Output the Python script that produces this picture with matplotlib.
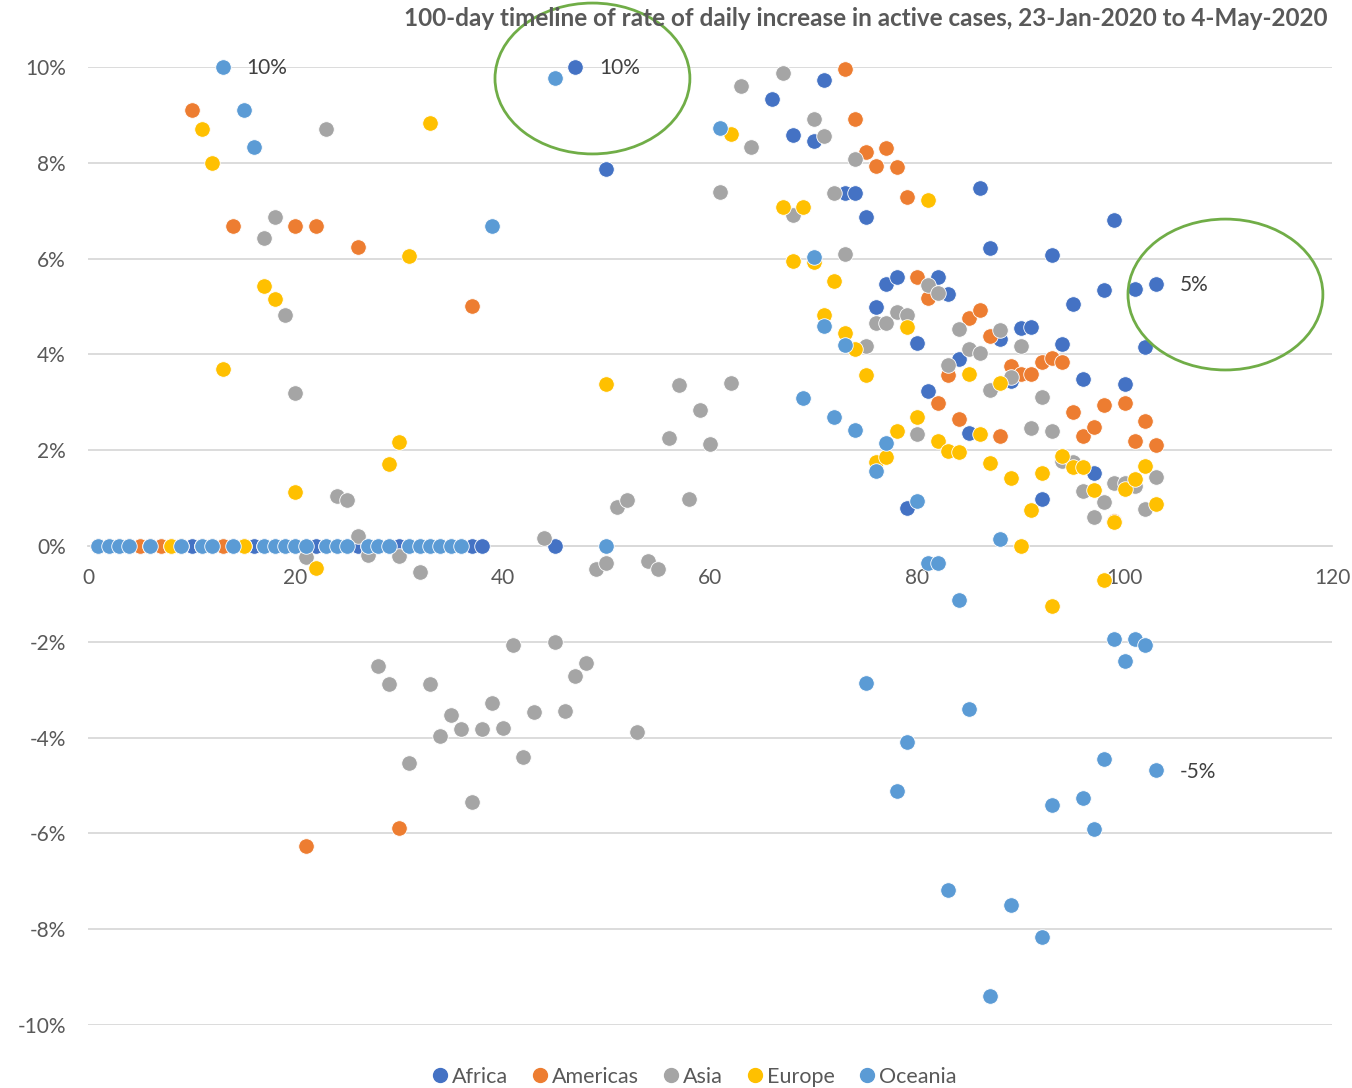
import matplotlib
matplotlib.use("Agg")
import matplotlib.pyplot as plt
from matplotlib.patches import Ellipse
from matplotlib.lines import Line2D
from matplotlib.ticker import FuncFormatter, MultipleLocator

plt.rcParams["font.family"] = ["Lato", "DejaVu Sans"]

# day index (1..103) and daily rate of increase in active cases (%)
africa_days = [1, 2, 3, 4, 5, 6, 7, 8, 9, 10, 11, 12, 13, 14, 15, 16, 17, 18, 19,
               20, 21, 22, 23, 24, 25, 26, 27, 28, 29, 30, 31, 32, 33, 34, 35, 36, 37, 38,
               45, 47, 50, 66, 68, 70, 71, 73, 74, 75, 76, 77, 78, 79, 80, 81, 82, 83,
               84, 85, 86, 87, 88, 89, 90, 91, 92, 93, 94, 95, 96, 97, 98, 99, 100,
               101, 102, 103]
africa_vals = [0, 0, 0, 0, 0, 0, 0, 0, 0, 0, 0, 0, 0, 0, 0, 0, 0, 0, 0,
               0, 0, 0, 0, 0, 0, 0, 0, 0, 0, 0, 0, 0, 0, 0, 0, 0, 0, 0,
               0, 10.0, 7.87, 9.33, 8.58, 8.46, 9.73, 7.37, 7.37, 6.87, 5.0, 5.47, 5.62,
               0.8, 4.24, 3.24, 5.62, 5.26, 3.9, 2.36, 7.47, 6.22, 4.32, 3.45, 4.56,
               4.57, 0.98, 6.07, 4.21, 5.05, 3.49, 1.52, 5.34, 6.8, 3.38, 5.36, 4.15,
               5.47]

americas_days = [1, 2, 3, 4, 5, 6, 7, 8, 9, 10, 11, 12, 13, 14, 15, 20, 21, 22, 26,
                 30, 37, 73, 74, 75, 76, 77, 78, 79, 80, 81, 82, 83, 84, 85, 86, 87,
                 88, 89, 90, 91, 92, 93, 94, 95, 96, 97, 98, 99, 100, 101, 102, 103]
americas_vals = [0, 0, 0, 0, 0, 0, 0, 0, 0, 9.1, 0, 0, 0, 6.68, 0, 6.68, -6.26, 6.68,
                 6.24, -5.89, 5.01, 9.96, 8.91, 8.22, 7.93, 8.31, 7.91, 7.29, 5.62,
                 5.18, 2.99, 3.57, 2.65, 4.76, 4.93, 4.38, 2.3, 3.76, 3.59, 3.59, 3.85,
                 3.92, 3.85, 2.8, 2.3, 2.49, 2.94, 0.52, 2.99, 2.2, 2.62, 2.11]

asia_days = [17, 18, 19, 20, 21, 23, 24, 25, 26, 27, 28, 29, 30, 31, 32, 33, 34, 35,
             36, 37, 38, 39, 40, 41, 42, 43, 44, 45, 46, 47, 48, 49, 50, 51, 52, 53,
             54, 55, 56, 57, 58, 59, 60, 61, 62, 63, 64, 67, 68, 70, 71, 72, 73, 74,
             75, 76, 77, 78, 79, 80, 81, 82, 83, 84, 85, 86, 87, 88, 89, 90, 91, 92,
             93, 94, 95, 96, 97, 98, 99, 100, 101, 102, 103]
asia_vals = [6.43, 6.87, 4.82, 3.19, -0.23, 8.7, 1.04, 0.96, 0.21, -0.19, -2.5, -2.88,
             -0.21, -4.53, -0.54, -2.88, -3.97, -3.53, -3.82, -5.35, -3.82, -3.28,
             -3.8, -2.07, -4.4, -3.47, 0.17, -2.0, -3.44, -2.71, -2.44, -0.47, -0.35,
             0.82, 0.96, -3.88, -0.31, -0.48, 2.26, 3.36, 0.98, 2.84, 2.13, 7.39, 3.4,
             9.6, 8.33, 9.87, 6.91, 8.91, 8.56, 7.37, 6.1, 8.08, 4.18, 4.65, 4.66,
             4.88, 4.82, 2.34, 5.45, 5.28, 3.78, 4.53, 4.11, 4.03, 3.26, 4.51, 3.53,
             4.17, 2.46, 3.11, 2.4, 1.77, 1.75, 1.15, 0.61, 0.92, 1.31, 1.31, 1.25,
             0.77, 1.44]

europe_days = [8, 11, 12, 13, 15, 17, 18, 20, 22, 29, 30, 31, 33, 50, 62, 67, 68, 69,
               70, 71, 72, 73, 74, 75, 76, 77, 78, 79, 80, 81, 82, 83, 84, 85, 86, 87,
               88, 89, 90, 91, 92, 93, 94, 95, 96, 97, 98, 99, 100, 101, 102, 103]
europe_vals = [0, 8.7, 8.0, 3.7, 0, 5.43, 5.16, 1.13, -0.46, 1.72, 2.17, 6.05, 8.83,
               3.38, 8.6, 7.08, 5.94, 7.08, 5.92, 4.82, 5.53, 4.45, 4.11, 3.58, 1.76,
               1.85, 2.4, 4.58, 2.69, 7.22, 2.19, 1.99, 1.96, 3.6, 2.33, 1.74, 3.41,
               1.41, 0.0, 0.75, 1.53, -1.25, 1.88, 1.64, 1.64, 1.16, -0.71, 0.51, 1.2,
               1.39, 1.67, 0.87]

oceania_days = [1, 2, 3, 4, 6, 9, 11, 12, 13, 14, 15, 16, 17, 18, 19, 20, 21, 23, 24,
                25, 27, 28, 29, 31, 32, 33, 34, 35, 36, 39, 45, 50, 61, 69, 70, 71, 72,
                73, 74, 75, 76, 77, 78, 79, 80, 81, 82, 83, 84, 85, 87, 88, 89, 92, 93,
                96, 97, 98, 99, 100, 101, 102, 103]
oceania_vals = [0, 0, 0, 0, 0, 0, 0, 0, 10.0, 0, 9.1, 8.33, 0, 0, 0, 0, 0, 0, 0,
                0, 0, 0, 0, 0, 0, 0, 0, 0, 0, 6.68, 9.77, 0, 8.73, 3.08, 6.03, 4.6,
                2.69, 4.19, 2.42, -2.86, 1.56, 2.15, -5.11, -4.09, 0.94, -0.36, -0.36,
                -7.18, -1.13, -3.4, -9.39, 0.14, -7.5, -8.16, -5.41, -5.26, -5.9, -4.45,
                -1.94, -2.4, -1.94, -2.07, -4.68]

series = [
    ("Africa", africa_days, africa_vals, "#4472C4"),
    ("Americas", americas_days, americas_vals, "#ED7D31"),
    ("Asia", asia_days, asia_vals, "#A5A5A5"),
    ("Europe", europe_days, europe_vals, "#FFC000"),
    ("Oceania", oceania_days, oceania_vals, "#5B9BD5"),
]

# (series, day, label) data labels shown on the chart
point_labels = [("Oceania", 13, "10%"), ("Africa", 47, "10%"),
                ("Africa", 103, "5%"), ("Oceania", 103, "-5%")]

W, H = 1352, 1088
fig = plt.figure(figsize=(W / 100, H / 100), dpi=100)
ax = fig.add_axes([88 / W, (H - 1025) / H, (1332 - 88) / W, (1025 - 67) / H])

for name, days, vals, color in series:
    ax.scatter(days, vals, s=125, color=color, edgecolors="white", linewidths=0.6,
               clip_on=False, zorder=3, label=name)

lookup = {name: dict(zip(days, vals)) for name, days, vals, _ in series}
for name, day, text in point_labels:
    ax.annotate(text, (day, lookup[name][day]), xytext=(17, -1),
                textcoords="offset points", ha="left", va="center",
                fontsize=15, color="#404040", zorder=5)

# hand-drawn highlight circles
for cx, cy in [(48.66, 9.76), (109.72, 5.25)]:
    ax.add_patch(Ellipse((cx, cy), 18.8, 3.15, fill=False, edgecolor="#70AD47",
                         linewidth=2, clip_on=False, zorder=4))

ax.set_xlim(0, 120)
ax.set_ylim(-10, 10)
ax.xaxis.set_major_locator(MultipleLocator(20))
ax.yaxis.set_major_locator(MultipleLocator(2))
ax.yaxis.set_major_formatter(FuncFormatter(lambda v, p: f"{v:.0f}%"))
ax.grid(axis="y", color="#D9D9D9", linewidth=1.3)
ax.set_axisbelow(True)
for side in ["top", "right", "left"]:
    ax.spines[side].set_visible(False)
ax.spines["bottom"].set_position(("data", 0))
ax.spines["bottom"].set_color("#D9D9D9")
ax.spines["bottom"].set_linewidth(1.3)
ax.tick_params(axis="both", length=0, labelsize=15, colors="#595959")
ax.tick_params(axis="y", pad=16)
ax.tick_params(axis="x", pad=16)

fig.text(1328 / W, 1 - 19 / H,
         "100-day timeline of rate of daily increase in active cases, 23-Jan-2020 to 4-May-2020",
         ha="right", va="center", fontsize=17.5, fontweight="bold", color="#595959")

handles = [Line2D([], [], marker="o", linestyle="", markersize=10,
                  markerfacecolor=c, markeredgecolor=c) for _, _, _, c in series]
leg = fig.legend(handles, [s[0] for s in series], loc="center",
                 bbox_to_anchor=(693 / W, 1 - 1077 / H), ncol=5, frameon=False,
                 fontsize=15.5, handletextpad=0.05, columnspacing=1.0,
                 handlelength=1.0, borderpad=0)
for t in leg.get_texts():
    t.set_color("#595959")

fig.savefig("out.png", dpi=100)
